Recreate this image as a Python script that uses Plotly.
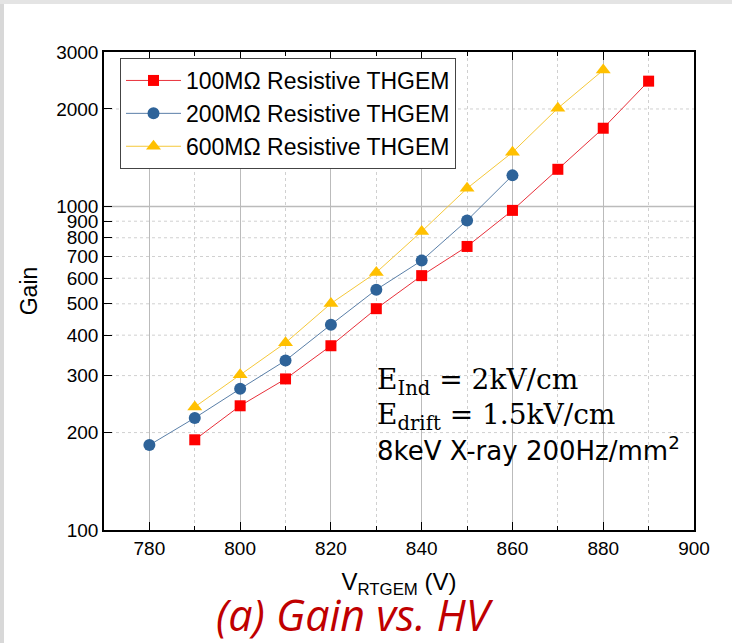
import plotly.graph_objects as go

x_100 = [790, 800, 810, 820, 830, 840, 850, 860, 870, 880, 890]
g_100 = [190, 242, 293, 371, 483, 611, 752, 972, 1302, 1744, 2438]
x_200 = [780, 790, 800, 810, 820, 830, 840, 850, 860]
g_200 = [183, 222, 273, 334, 431, 553, 680, 905, 1247]
x_600 = [790, 800, 810, 820, 830, 840, 850, 860, 870, 880]
g_600 = [240, 302, 379, 501, 625, 837, 1137, 1469, 2011, 2637]

names = ["100MΩ Resistive THGEM", "200MΩ Resistive THGEM", "600MΩ Resistive THGEM"]
x_ticks = [780, 800, 820, 840, 860, 880, 900]
y_ticks = [100, 200, 300, 400, 500, 600, 700, 800, 900, 1000, 2000, 3000]

W, H = 732, 643
ML, MR, MT, MB = 104, 38, 52, 113
PW, PH = W - ML - MR, H - MT - MB

def px(xp):
    return (xp - ML) / PW

def py(yp):
    return (H - MB - yp) / PH

fig = go.Figure()
fig.add_trace(go.Scatter(x=x_100, y=g_100, name=names[0], mode="lines+markers",
                         line=dict(color="#E8303A", width=1),
                         marker=dict(symbol="square", size=11, color="#FF0000")))
fig.add_trace(go.Scatter(x=x_200, y=g_200, name=names[1], mode="lines+markers",
                         line=dict(color="#5A7FA8", width=1),
                         marker=dict(symbol="circle", size=12, color="#2E6399")))
fig.add_trace(go.Scatter(x=x_600, y=g_600, name=names[2], mode="lines+markers",
                         line=dict(color="#F5C83A", width=1),
                         marker=dict(symbol="triangle-up", size=13, color="#FFC000")))

font = "Liberation Sans, Arial, sans-serif"
fig.update_layout(
    width=W, height=H,
    margin=dict(l=ML, r=MR, t=MT, b=MB),
    paper_bgcolor="white", plot_bgcolor="white",
    font=dict(family=font, color="black", size=19),
    showlegend=True,
    legend=dict(x=px(120), y=py(58), xanchor="left", yanchor="top",
                bgcolor="white", bordercolor="#444", borderwidth=1,
                font=dict(size=23, family=font), tracegroupgap=0,
                itemwidth=55),
    xaxis=dict(range=[770, 900], tickvals=x_ticks, ticks="inside", ticklen=8,
               tickcolor="black", showline=True, linecolor="black", linewidth=1.5,
               mirror="allticks", showgrid=True, gridcolor="#BBBBBB", gridwidth=1,
               minor=dict(dtick=10, tick0=770, showgrid=True, gridcolor="#D0D0D0",
                          griddash="dot", ticks="inside", ticklen=4, tickcolor="black"),
               tickfont=dict(size=19), zeroline=False,
               title=dict(text="V<sub>RTGEM</sub> (V)", font=dict(size=24), standoff=16)),
    yaxis=dict(type="log", range=[2, 3.4771], tickvals=y_ticks,
               ticktext=[str(v) for v in y_ticks],
               ticks="inside", ticklen=8, tickcolor="black",
               showline=True, linecolor="black", linewidth=1.5, mirror=True,
               showgrid=False, tickfont=dict(size=19), zeroline=False,
               title=dict(text="Gain", font=dict(size=23), standoff=12)),
)

shapes = []
for v in [200, 300, 400, 500, 600, 700, 800, 900, 2000]:
    shapes.append(dict(type="line", xref="paper", yref="y", x0=0, x1=1, y0=v, y1=v,
                       line=dict(color="#D0D0D0", width=1, dash="dot"), layer="below"))
shapes.append(dict(type="line", xref="paper", yref="y", x0=0, x1=1, y0=1000, y1=1000,
                   line=dict(color="#BBBBBB", width=1.5), layer="below"))
shapes.append(dict(type="rect", xref="paper", yref="paper", x0=px(0), x1=px(4), y0=py(H), y1=py(0),
                   fillcolor="#D8D8D8", line=dict(width=0), layer="below"))
shapes.append(dict(type="rect", xref="paper", yref="paper", x0=px(0), x1=px(W), y0=py(4), y1=py(0),
                   fillcolor="#E4E4E4", line=dict(width=0), layer="below"))
fig.update_layout(shapes=shapes)

serif = "DejaVu Serif, Liberation Serif, serif"
ann = [
    dict(text="E<sub>Ind</sub> = 2kV/cm", x=px(375), y=py(381), font=dict(size=28, family=serif)),
    dict(text="E<sub>drift</sub> = 1.5kV/cm", x=px(375), y=py(416), font=dict(size=28, family=serif)),
    dict(text="8keV X-ray 200Hz/mm<sup>2</sup>", x=px(375), y=py(449), font=dict(size=26, family="DejaVu Sans, sans-serif")),
]
for a in ann:
    fig.add_annotation(xref="paper", yref="paper", xanchor="left", yanchor="middle",
                       showarrow=False, **a)
fig.add_annotation(text="<i>(a) Gain vs. HV</i>", xref="paper", yref="paper",
                   x=px(355), y=py(614), xanchor="center", yanchor="middle", showarrow=False,
                   font=dict(size=43, color="#C00000", family="Open Sans, Noto Sans, sans-serif"))

fig.write_html("out.html")
